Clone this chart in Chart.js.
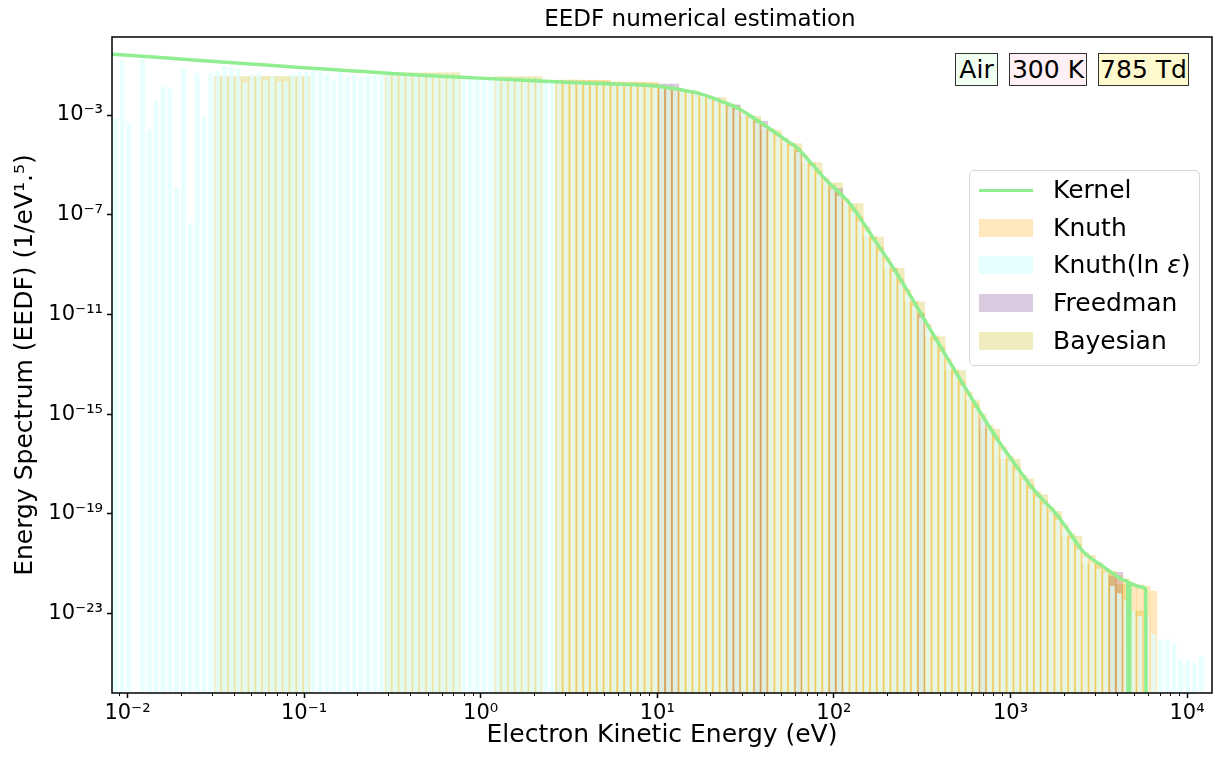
<!DOCTYPE html>
<html>
<head>
<meta charset="utf-8">
<script src="https://cdn.jsdelivr.net/npm/chart.js@4.4.0/dist/chart.umd.min.js"></script>
<style>
  body { margin: 0; background: #fff; font-family: 'DejaVu Sans', sans-serif; }
  #wrap { position: relative; width: 1219px; height: 757px; }
  #title { position: absolute; left: 150px; width: 1100px; top: 3px; text-align: center; font-size: 23px; line-height: 30px; color: #000; }
  .tag { position: absolute; top: 53px; height: 33px; box-sizing: border-box; border: 1px solid #333; font-size: 25px; line-height: 31px; text-align: center; color: #000; }
  #legend { position: absolute; left: 969px; top: 170px; width: 231px; height: 196px; box-sizing: border-box; border: 1px solid #d6d6d6; border-radius: 5px; background: rgba(255,255,255,0.8); }
  .row { position: absolute; left: 0; height: 30px; width: 100%; }
  .sw { position: absolute; left: 9px; width: 54px; }
  .lb { position: absolute; left: 83px; top: 0; font-size: 25px; line-height: 30px; color: #000; white-space: nowrap; }
</style>
</head>
<body>
<div id="wrap">
  <canvas id="chart"></canvas>
  <div id="title">EEDF numerical estimation</div>
  <div class="tag" style="left:955px;width:43px;background:#f0fff0;">Air</div>
  <div class="tag" style="left:1009px;width:78px;background:#fff0f5;">300 K</div>
  <div class="tag" style="left:1098px;width:91px;background:#fffacd;">785 Td</div>
  <div id="legend"></div>
</div>
<script>
// histogram bins: equal width in log10(eV)
const binLog0 = -2.0697;
const binLogStep = 0.03868;
const binCount = 160;

// Knuth(ln e) heights, log10, one per bin (null = empty bin)
const knuthLnLog = [
  -3.12, -0.79, -3.31, null, -0.67, -3.57, -2.46, -1.87, -1.95, -5.9,
  -1.15, -7.34, -1.31, -3.07, -1.31, -1.23, -1.04, -1.07, -1.12, -1.71,
  -1.38, -1.32, -1.60, -1.46, -1.66, -1.67, -1.34, -1.26, -1.26, -1.20,
  -1.26, -1.34, -1.58, -1.23, -1.46, -1.38, -1.47, -1.40, -1.40, -1.40,
  -1.31, -1.31, -1.38, -1.36, -1.42, -1.40, -1.44, -1.45, -1.47, -1.46,
  -1.50, -1.52, -1.51, -1.55, -1.53, -1.57, -1.56, -1.60, -1.59, -1.61,
  -1.63, -1.62, -1.66, -1.65, -1.68, -1.70, -1.69, -1.72, -1.71, -1.74,
  -1.75, -1.76, -1.77, -1.79, -1.78, -1.81, -1.82, -1.83, -1.86, -1.88,
  -1.92, -1.97, -1.99, -2.05, -2.12, -2.16, -2.24, -2.34, -2.43, -2.55,
  -2.66, -2.77, -2.94, -3.12, -3.30, -3.48, -3.66, -3.86, -4.05, -4.25,
  -4.48, -4.76, -5.06, -5.38, -5.68, -5.96, -6.24, -6.52, -6.86, -7.26,
  -7.66, -8.06, -8.48, -8.90, -9.30, -9.76, -10.2, -10.66, -11.12, -11.58,
  -12.04, -12.5, -12.95, -13.4, -13.86, -14.3, -14.76, -15.2, -15.62, -16.06,
  -16.46, -16.86, -17.24, -17.62, -18.0, -18.32, -18.62, -18.92, -19.24, -19.62,
  -20.0, -20.4, -20.74, -20.98, -21.2, -21.34, -21.9, -22.19, -22.47, -22.9,
  -23.1, -23.16, -23.83, -24.07, -24.03, -24.19, -24.83, -24.87, -24.96, -24.71
];

// Knuth heights, log10, from bin 65 on
const knuthFirst = 65;
const knuthLog = [
  -1.60, -1.60, -1.59, -1.60, -1.61, -1.60, -1.62, -1.63, -1.67, -1.67,
  -1.68, -1.67, -1.69, -1.70, -1.73, -1.80, -1.86, -1.92, -1.97, -2.03,
  -2.08, -2.15, -2.26, -2.35, -2.45, -2.58, -2.68, -2.85, -3.00, -3.16,
  -3.36, -3.55, -3.72, -3.93, -4.12, -4.32, -4.62, -4.92, -5.22, -5.52,
  -5.82, -6.08, -6.36, -6.70, -7.08, -7.50, -7.88, -8.30, -8.72, -9.12,
  -9.58, -10.0, -10.48, -10.92, -11.4, -11.85, -12.3, -12.78, -13.22, -13.68,
  -14.12, -14.58, -15.0, -15.45, -15.88, -16.3, -16.68, -17.05, -17.45, -17.82,
  -18.12, -18.45, -18.72, -19.05, -19.42, -19.8, -20.2, -20.55, -20.67, -20.95,
  -21.2, -21.34, -21.47, -21.6, -21.8, -21.85, -21.9, -22.1
];

// Freedman bins that show, log10 heights
const freedmanBins = [80, 81, 82, 90, 91, 94, 95, 100, 105, 106, 118, 127, 146, 147];
const freedmanLog = [-1.76, -1.76, -1.76, -2.59, -2.59, -3.20, -3.25, -4.45, -5.95, -5.95, -11.0, -15.2, -21.5, -21.35];

// Bayesian blocks: first bin, last bin, log10 height
const bayesFirst = [15, 40, 56, 65, 73, 80, 83, 86, 90, 92, 95, 98, 101, 104, 107, 110, 113, 116, 119, 122, 125, 127, 130, 133, 135, 137, 139, 142, 145, 147, 149];
const bayesLast  = [28, 50, 62, 72, 79, 82, 85, 89, 91, 94, 97, 100, 103, 106, 109, 112, 115, 118, 121, 124, 126, 129, 132, 134, 136, 138, 141, 144, 146, 148, 150];
const bayesLog   = [-1.46, -1.31, -1.46, -1.62, -1.70, -1.90, -2.04, -2.30, -2.62, -3.05, -3.60, -4.15, -4.92, -5.72, -6.55, -7.9, -9.15, -10.5, -11.9, -13.25, -14.43, -15.6, -16.8, -17.6, -18.23, -18.9, -19.9, -21.0, -21.3, -21.83, -22.9];

// kernel estimate: energy (eV) and log10 EEDF
const kernelE = [0.00814, 0.01337, 0.02564, 0.0492, 0.0944, 0.1811, 0.3133, 0.586, 0.987, 1.663,
  2.46, 4.72, 7.95, 10.3, 13.4, 17.4, 22.6, 28.2, 35.6, 43.3,
  52.6, 61.5, 74.8, 91.0, 123, 166, 227, 372, 611, 869,
  1084, 1285, 1521, 1827, 2163, 2564, 2917, 3326, 3991, 4490,
  4610, 4680, 4750, 4920, 5395, 5834, 5900];
const kernelLog = [-0.56, -0.66, -0.81, -0.95, -1.09, -1.22, -1.33, -1.44, -1.52, -1.60,
  -1.66, -1.74, -1.80, -1.86, -1.98, -2.14, -2.43, -2.70, -3.15, -3.55,
  -3.97, -4.30, -4.95, -5.63, -6.55, -7.9, -9.35, -11.9, -14.43, -16.15,
  -17.1, -17.83, -18.43, -19.03, -19.75, -20.5, -20.83, -21.1, -21.5, -21.69,
  -21.72, -40, -21.78, -21.83, -21.93, -22.03, -40];

// axis ranges and tick exponents
const xRange = [0.00817, 13840];
const yRange = [10 ** -26.19, 10 ** 0.13];
const xTickExps = [-2, -1, 0, 1, 2, 3, 4];
const yTickExps = [-3, -7, -11, -15, -19, -23];

const binCenters = [];
for (let k = 0; k < binCount; k++) binCenters.push(10 ** (binLog0 + k * binLogStep));

function pts(bins, logs) {
  const out = [];
  for (let i = 0; i < bins.length; i++) {
    if (logs[i] === null) continue;
    out.push({ x: binCenters[bins[i]], y: 10 ** logs[i] });
  }
  return out;
}

const allBins = knuthLnLog.map((v, k) => k);
const knuthBins = knuthLog.map((v, i) => knuthFirst + i);
const bayesBins = [], bayesVals = [];
for (let b = 0; b < bayesFirst.length; b++) {
  for (let k = bayesFirst[b]; k <= bayesLast[b]; k++) { bayesBins.push(k); bayesVals.push(bayesLog[b]); }
}
const kernelPts = kernelE.map((e, i) => ({ x: e, y: 10 ** kernelLog[i] }));

const supMap = { '-': '⁻', '0': '⁰', '1': '¹', '2': '²', '3': '³', '4': '⁴', '5': '⁵', '6': '⁶', '7': '⁷', '8': '⁸', '9': '⁹' };
function powLabel(v) {
  const e = Math.round(Math.log10(v));
  return '10' + String(e).split('').map(c => supMap[c]).join('');
}

const tickFont = { family: 'DejaVu Sans', size: 21 };
const titleFont = { family: 'DejaVu Sans', size: 25 };

// spines and minor x ticks
const frame = {
  id: 'frame',
  afterDatasetsDraw(chart) {
    const { ctx, chartArea: a } = chart;
    const xs = chart.scales.x;
    ctx.save();
    ctx.strokeStyle = '#000';
    ctx.lineWidth = 1;
    ctx.beginPath();
    for (let e = -3; e <= 4; e++) {
      for (let m = 2; m <= 9; m++) {
        const v = m * 10 ** e;
        if (v < xs.min || v > xs.max) continue;
        const px = Math.round(xs.getPixelForValue(v)) + 0.5;
        ctx.moveTo(px, a.bottom);
        ctx.lineTo(px, a.bottom + 3);
      }
    }
    ctx.stroke();
    ctx.lineWidth = 1.5;
    ctx.strokeRect(a.left, a.top, a.right - a.left, a.bottom - a.top);
    ctx.restore();
  }
};

// order: lower number is painted later (on top)
const chart = new Chart(document.getElementById('chart'), {
  type: 'bar',
  data: {
    datasets: [
      { type: 'line', label: 'Kernel', order: 0, data: kernelPts, borderColor: '#90ee90', backgroundColor: '#90ee90', borderWidth: 3.5, pointRadius: 0, cubicInterpolationMode: 'monotone' },
      { label: 'Knuth', order: 2, data: pts(knuthBins, knuthLog), backgroundColor: 'rgba(255,165,0,0.26)', barPercentage: 1, categoryPercentage: 1, grouped: false },
      { label: 'Knuth(ln ε)', order: 1, data: pts(allBins, knuthLnLog), backgroundColor: 'rgba(224,255,255,0.75)', barPercentage: 0.69, categoryPercentage: 1, grouped: false },
      { label: 'Freedman', order: 3, data: pts(freedmanBins, freedmanLog), backgroundColor: 'rgba(100,30,120,0.23)', barPercentage: 1, categoryPercentage: 1, grouped: false },
      { label: 'Bayesian', order: 4, data: pts(bayesBins, bayesVals), backgroundColor: 'rgba(200,185,20,0.28)', barPercentage: 1, categoryPercentage: 1, grouped: false }
    ]
  },
  options: {
    responsive: true,
    maintainAspectRatio: false,
    animation: false,
    layout: { padding: { top: 37, right: 7, left: 0, bottom: 0 } },
    plugins: { legend: { display: false }, tooltip: { enabled: false } },
    scales: {
      x: {
        type: 'logarithmic',
        min: xRange[0],
        max: xRange[1],
        bounds: 'data',
        offset: false,
        border: { display: false },
        grid: { drawOnChartArea: false, offset: false, tickLength: 5, tickWidth: 1.5, tickColor: '#000' },
        ticks: { autoSkip: false, maxRotation: 0, minRotation: 0, padding: 3, color: '#000', font: tickFont, callback: powLabel },
        afterBuildTicks: s => { s.ticks = xTickExps.map(e => ({ value: 10 ** e })); },
        afterFit: s => { s.height = 64; },
        title: { display: true, text: 'Electron Kinetic Energy (eV)', color: '#000', font: titleFont, padding: { top: 0, bottom: 7 } }
      },
      y: {
        type: 'logarithmic',
        min: yRange[0],
        max: yRange[1],
        bounds: 'data',
        border: { display: false },
        grid: { drawOnChartArea: false, tickLength: 5, tickWidth: 1.5, tickColor: '#000' },
        ticks: { autoSkip: false, padding: 4, color: '#000', font: tickFont, callback: powLabel },
        afterBuildTicks: s => { s.ticks = yTickExps.map(e => ({ value: 10 ** e })); },
        afterFit: s => { s.width = 112; },
        title: { display: true, text: 'Energy Spectrum (EEDF) (1/eV¹.⁵)', color: '#000', font: titleFont, padding: { top: 10, bottom: 0 } }
      }
    }
  },
  plugins: [frame]
});

// legend built from the datasets, in dataset order
const legend = document.getElementById('legend');
chart.data.datasets.forEach((ds, i) => {
  const row = document.createElement('div');
  row.className = 'row';
  row.style.top = (4 + i * 37.7) + 'px';
  const sw = document.createElement('div');
  sw.className = 'sw';
  if (ds.type === 'line') {
    sw.style.top = '13.5px'; sw.style.height = '3.5px'; sw.style.background = ds.borderColor;
  } else {
    sw.style.top = '6px'; sw.style.height = '18px'; sw.style.background = ds.backgroundColor;
  }
  const lb = document.createElement('div');
  lb.className = 'lb';
  lb.innerHTML = ds.label.replace('ε', '<i>ε</i>');
  row.appendChild(sw);
  row.appendChild(lb);
  legend.appendChild(row);
});
</script>
</body>
</html>
